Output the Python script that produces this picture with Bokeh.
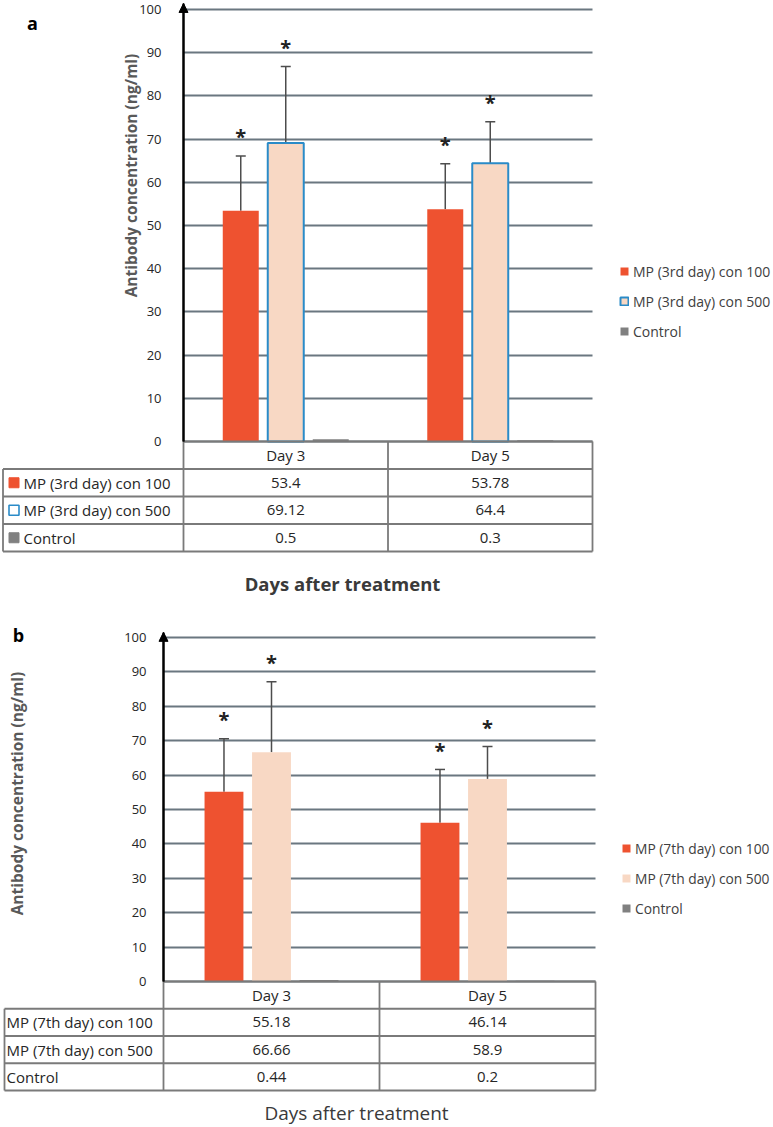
import numpy as np
from bokeh.plotting import figure
from bokeh.models import (Range1d, FixedTicker, Label, Arrow, NormalHead, TeeHead, Whisker,
                          ColumnDataSource, Legend, LegendItem)
from bokeh.layouts import column
from bokeh.embed import file_html
from bokeh.resources import INLINE
from bokeh.core.properties import value

# ---------------- data ----------------
days = ["Day 3", "Day 5"]

a_series = ["MP (3rd day) con 100", "MP (3rd day) con 500", "Control"]
a_con100 = [53.4, 53.78]
a_con500 = [69.12, 64.4]
a_control = [0.5, 0.3]
a_err100 = [12.7, 10.5]
a_err500 = [17.7, 9.6]

b_series = ["MP (7th day) con 100", "MP (7th day) con 500", "Control"]
b_con100 = [55.18, 46.14]
b_con500 = [66.66, 58.9]
b_control = [0.44, 0.2]
b_err100 = [15.4, 15.5]
b_err500 = [20.5, 9.4]

y_ticks = list(range(0, 101, 10))
y_title = "Antibody concentration (ng/ml)"
x_title = "Days after treatment"

# ---------------- style ----------------
FONT = "Open Sans"
RED = "#EE5230"
PEACH = "#F8D8C4"
BLUE = "#2A8BC8"
GRAY = "#808080"
GRID = "#6A7780"
TLINE = "#7A7A7A"
TEXT = "#262626"
ERR = "#4D4D4D"
FIG_W = 773


def build(letter, series, v100, v500, vctl, e100, e500, c):
    ax, ux, y0, uy = c["ax"], c["ux"], c["y0"], c["uy"]

    def dx(px):
        return (px - ax) / ux

    def dy(py):
        return (y0 - py) / uy

    top, h = c["top"], c["h"]
    p = figure(width=FIG_W, height=h, x_range=Range1d(dx(0), dx(FIG_W)),
               y_range=Range1d(dy(top + h), dy(top)), min_border=0,
               min_border_left=0, min_border_right=0, min_border_top=0, min_border_bottom=0,
               x_axis_location=None, toolbar_location=None, output_backend="svg")
    p.outline_line_color = None
    p.xgrid.visible = False

    # y axis drawn at the chart's left edge (x = 0) inside the frame
    ya = p.yaxis[0]
    ya.fixed_location = 0
    ya.bounds = (0, c["tip"])
    ya.ticker = FixedTicker(ticks=y_ticks)
    ya.axis_line_color = "black"
    ya.axis_line_width = 2
    ya.major_tick_line_color = None
    ya.minor_tick_line_color = None
    ya.major_label_standoff = c["tstd"]
    ya.major_label_text_font = FONT
    ya.major_label_text_font_size = "13px"
    ya.major_label_text_color = TEXT

    grid_ok = True
    try:
        p.ygrid.cross_bounds = (0, 2)
    except Exception:
        grid_ok = False
    if grid_ok:
        p.ygrid.grid_line_color = GRID
        p.ygrid.grid_line_width = 1.8
    else:
        p.ygrid.visible = False
        p.segment(x0=[0] * len(y_ticks), x1=[2] * len(y_ticks), y0=y_ticks, y1=y_ticks,
                  line_color=GRID, line_width=1.8)

    base = np.arange(len(days)) + 0.5
    offs = [-0.22, 0.0, 0.22]
    bw = c["bw"]
    r1 = p.vbar(x=(base + offs[0]).tolist(), top=v100, width=bw, bottom=0,
                fill_color=RED, line_color=None)
    r2 = p.vbar(x=(base + offs[1]).tolist(), top=v500, width=bw, bottom=0,
                fill_color=PEACH, line_color=BLUE if c["outline"] else None, line_width=2)
    r3 = p.vbar(x=(base + offs[2]).tolist(), top=vctl, width=bw, bottom=0,
                fill_color=GRAY, line_color=None)

    wx = (base + offs[0]).tolist() + (base + offs[1]).tolist()
    lo = list(v100) + list(v500)
    hi = [a + b for a, b in zip(v100, e100)] + [a + b for a, b in zip(v500, e500)]
    src = ColumnDataSource(dict(x=wx, lo=lo, hi=hi, star=["*"] * len(wx)))
    p.add_layout(Whisker(source=src, base="x", lower="lo", upper="hi", dimension="height",
                         line_color=ERR, line_width=1.5, lower_head=None,
                         upper_head=TeeHead(size=10, line_color=ERR, line_width=1.5)))
    p.text(x="x", y="hi", text="star", source=src, text_align="center", text_baseline="middle",
           y_offset=-19, text_font=value(FONT), text_font_size="20px", text_font_style="bold",
           text_color="#222222")

    p.add_layout(Arrow(end=NormalHead(size=9, fill_color="black", line_color="black", line_width=1),
                       x_start=0, y_start=0, x_end=0, y_end=c["tip"], line_color="black",
                       line_width=2))

    lg = Legend(items=[LegendItem(label=series[0], renderers=[r1]),
                       LegendItem(label=series[1], renderers=[r2]),
                       LegendItem(label=series[2], renderers=[r3])],
                location=(c["lgx"], top + h - c["lgb"]), padding=0, margin=0, spacing=10,
                label_height=20, glyph_height=10, glyph_width=10, label_standoff=4,
                border_line_alpha=0, background_fill_alpha=0, label_text_font=FONT,
                label_text_font_size=c["lgfs"], label_text_color="#404040")
    p.add_layout(lg)

    p.add_layout(Label(x=dx(c["let"][0]), y=dy(c["let"][1]), text=letter, text_align="center",
                       text_baseline="middle", text_font=FONT, text_font_size="18px",
                       text_font_style="bold", text_color="black"))
    p.add_layout(Label(x=dx(c["yt"][0]), y=dy(c["yt"][1]), text=y_title, angle=np.pi / 2,
                       text_align="center", text_baseline="middle", text_font=FONT,
                       text_font_size="15.5px", text_font_style="bold", text_color="#595959"))
    p.add_layout(Label(x=dx(c["xt"][0]), y=dy(c["xt"][1]), text=x_title, text_align="center",
                       text_baseline="middle", text_font=FONT, text_font_size=c["xfs"],
                       text_font_style=c["xfw"], text_color="#3A3A3A"))

    # ---------- data table (rows below the chart) ----------
    ry = [dy(c["r0"] + c["rp"] * k) for k in range(5)]
    xl = dx(c["tl"])
    x0 = [0, xl, xl, xl, xl, 0, 1, 2]
    x1 = [2, 2, 2, 2, xl, 0, 1, 2]
    y0s = [ry[0], ry[1], ry[2], ry[3], ry[1], ry[0], ry[0], ry[0]]
    y1s = [ry[0], ry[1], ry[2], ry[3], ry[4], ry[4], ry[4], ry[4]]
    p.segment(x0=x0 + [xl], y0=y0s + [ry[4]], x1=x1 + [2], y1=y1s + [ry[4]],
              line_color=TLINE, line_width=1.8)

    mid = [(ry[k] + ry[k + 1]) / 2 for k in range(4)]
    p.text(x=base.tolist(), y=[mid[0]] * len(days), text=days, text_align="center",
           text_baseline="middle", text_font=value(FONT), text_font_size="15px", text_color=TEXT)
    for i, vals in enumerate([v100, v500, vctl]):
        p.text(x=base.tolist(), y=[mid[i + 1]] * len(vals), text=[str(v) for v in vals],
               text_align="center", text_baseline="middle", text_font=value(FONT),
               text_font_size="15px", text_color=TEXT)
    p.text(x=[dx(c["lab"])] * 3, y=mid[1:], text=series, text_align="left",
           text_baseline="middle", text_font=value(FONT), text_font_size="15px", text_color=TEXT)
    if c["markers"]:
        p.scatter(x=[dx(13.5)] * 3, y=mid[1:], marker="square", size=10,
                  fill_color=[RED, "white", GRAY], line_color=[RED, BLUE, GRAY],
                  line_width=[1, 1.6, 1])
    return p


cfg_a = dict(ax=183, ux=204.5, y0=441, uy=4.32, top=0, h=610, tip=101.4, tstd=16, bw=0.176,
             outline=True, lgx=619, lgb=341, lgfs="14px", let=(32, 22), yt=(130, 175),
             xt=(342, 583), xfs="18.5px", xfw="bold",
             r0=441, rp=27.5, tl=2.5, lab=23, markers=True)
cfg_b = dict(ax=163, ux=216, y0=981, uy=3.44, top=610, h=515, tip=101.5, tstd=11, bw=0.18,
             outline=False, lgx=621, lgb=918, lgfs="13.8px", let=(18, 634), yt=(16, 793),
             xt=(356, 1112), xfs="19px", xfw="normal",
             r0=981, rp=27.25, tl=4, lab=6, markers=False)

pa = build("a", a_series, a_con100, a_con500, a_control, a_err100, a_err500, cfg_a)
pb = build("b", b_series, b_con100, b_con500, b_control, b_err100, b_err500, cfg_b)

layout = column(pa, pb, spacing=0)
open("out.html", "w").write(file_html(layout, INLINE))
